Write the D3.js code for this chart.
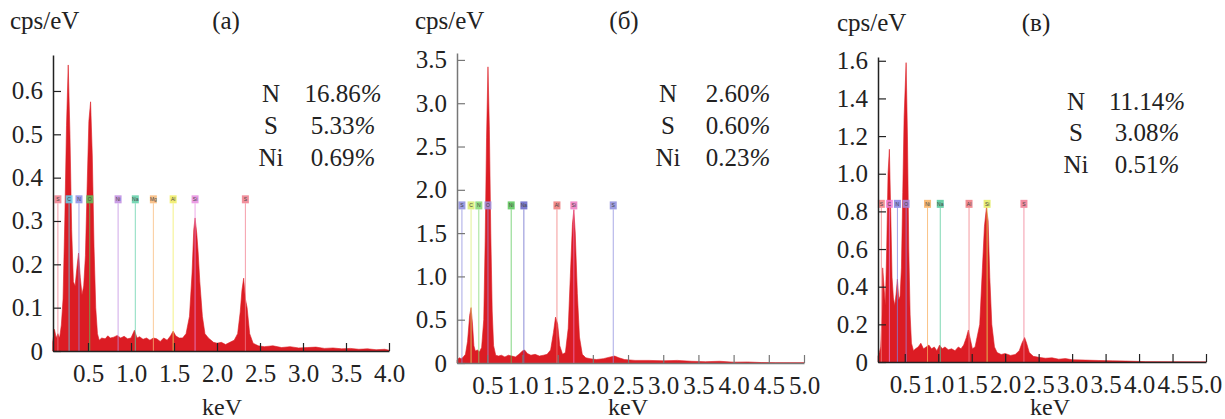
<!DOCTYPE html>
<html>
<head>
<meta charset="utf-8">
<script src="https://cdn.jsdelivr.net/npm/d3@7"></script>
<style>
  body { margin: 0; background: #fff; }
  text { font-family: "Liberation Serif", Tinos, "Times New Roman", Times, "DejaVu Serif", serif; }
</style>
</head>
<body>
<svg id="chart" width="1225" height="419"></svg>
<script>
var serif = "'Liberation Serif', Tinos, 'Times New Roman', Times, 'DejaVu Serif', serif";

// ---- spectrum (a) ----
var aKev = [0.09,0.11,0.13,0.15,0.17,0.19,0.21,0.23,0.25,0.27,0.29,0.31,0.33,0.35,0.37,0.39,0.41,0.43,0.45,0.47,0.49,0.51,0.53,0.55,0.57,0.59,0.61,0.63,0.66,0.70,0.73,0.76,0.80,0.84,0.88,0.92,0.96,1.00,1.04,1.07,1.10,1.14,1.18,1.22,1.26,1.30,1.34,1.38,1.42,1.46,1.49,1.52,1.56,1.60,1.64,1.68,1.71,1.73,1.745,1.765,1.78,1.80,1.83,1.86,1.90,1.96,2.00,2.05,2.10,2.15,2.20,2.24,2.27,2.29,2.31,2.33,2.35,2.38,2.42,2.48,2.55,2.65,2.75,2.85,2.95,3.05,3.15,3.25,3.35,3.45,3.55,3.65,3.75,3.85,3.95,4.0];
var aCps = [0.02,0.05,0.03,0.04,0.03,0.06,0.12,0.30,0.52,0.66,0.50,0.28,0.16,0.15,0.19,0.226,0.17,0.13,0.15,0.22,0.38,0.53,0.575,0.45,0.24,0.10,0.04,0.025,0.03,0.028,0.035,0.03,0.032,0.036,0.03,0.034,0.028,0.03,0.048,0.03,0.033,0.027,0.03,0.025,0.03,0.028,0.022,0.03,0.025,0.035,0.046,0.035,0.03,0.03,0.04,0.08,0.18,0.28,0.307,0.27,0.23,0.16,0.08,0.04,0.03,0.02,0.018,0.02,0.015,0.02,0.025,0.04,0.09,0.14,0.168,0.12,0.10,0.04,0.018,0.012,0.01,0.012,0.008,0.01,0.007,0.008,0.009,0.006,0.007,0.005,0.006,0.004,0.005,0.003,0.004,0.002];
var aLines = ["S","C","N","O","Ni","Na","Mg","Al","Si","S"];
var aLineKev = [0.15,0.28,0.395,0.52,0.85,1.05,1.26,1.49,1.745,2.33];
var aLineColors = ["#f07c8c","#5fd3f0","#8c8ce6","#5cc85c","#c08ce0","#60d0a8","#f8b878","#f0ec60","#e88ce0","#f07c8c"];
var aElements = ["N","S","Ni"];
var aPercents = ["16.86","5.33","0.69"];
var aXTicks = [0.5,1.0,1.5,2.0,2.5,3.0,3.5,4.0];
var aXLabels = ["0.5","1.0","1.5","2.0","2.5","3.0","3.5","4.0"];
var aYTicks = [0,0.1,0.2,0.3,0.4,0.5,0.6];
var aYLabels = ["0","0.1","0.2","0.3","0.4","0.5","0.6"];

// ---- spectrum (б) ----
var bKev = [0.07,0.10,0.13,0.16,0.19,0.22,0.25,0.27,0.29,0.31,0.33,0.36,0.39,0.42,0.45,0.47,0.49,0.51,0.53,0.55,0.57,0.59,0.62,0.66,0.70,0.75,0.80,0.85,0.90,0.95,1.00,1.03,1.07,1.12,1.18,1.24,1.30,1.35,1.40,1.44,1.47,1.50,1.53,1.57,1.61,1.65,1.68,1.71,1.73,1.75,1.78,1.81,1.85,1.90,1.96,2.05,2.15,2.25,2.31,2.37,2.45,2.6,2.8,3.0,3.2,3.4,3.6,3.8,4.0,4.2,4.4,4.6,5.0];
var bCps = [0.03,0.06,0.05,0.07,0.10,0.25,0.55,0.64,0.45,0.20,0.14,0.15,0.13,0.18,0.50,1.4,2.6,3.42,2.7,1.5,0.6,0.2,0.09,0.08,0.09,0.07,0.09,0.08,0.07,0.10,0.14,0.15,0.11,0.09,0.10,0.08,0.09,0.10,0.15,0.35,0.53,0.45,0.20,0.10,0.12,0.40,1.0,1.6,1.77,1.5,0.8,0.3,0.10,0.06,0.05,0.04,0.05,0.07,0.08,0.06,0.04,0.03,0.03,0.025,0.03,0.02,0.015,0.02,0.01,0.012,0.005,0.003,0.002];
var bLines = ["S","C","N","O","Ni","Na","Al","Si","S"];
var bLineKev = [0.14,0.27,0.38,0.51,0.84,1.02,1.49,1.73,2.29];
var bLineColors = ["#8c8cdc","#d8ec70","#80d870","#a090e0","#58c858","#6464c8","#f07878","#f078c0","#8c8cdc"];
var bElements = ["N","S","Ni"];
var bPercents = ["2.60","0.60","0.23"];
var bXTicks = [0.5,1.0,1.5,2.0,2.5,3.0,3.5,4.0,4.5,5.0];
var bXLabels = ["0.5","1.0","1.5","2.0","2.5","3.0","3.5","4.0","4.5","5.0"];
var bYTicks = [0,0.5,1.0,1.5,2.0,2.5,3.0,3.5];
var bYLabels = ["0","0.5","1.0","1.5","2.0","2.5","3.0","3.5"];

// ---- spectrum (в) ----
var cKev = [0.10,0.12,0.14,0.16,0.17,0.19,0.21,0.23,0.25,0.27,0.29,0.31,0.33,0.35,0.37,0.39,0.41,0.43,0.45,0.47,0.49,0.52,0.54,0.56,0.58,0.60,0.63,0.66,0.70,0.74,0.78,0.82,0.86,0.90,0.94,0.98,1.02,1.06,1.10,1.15,1.20,1.25,1.30,1.34,1.38,1.42,1.45,1.48,1.51,1.55,1.62,1.66,1.69,1.72,1.745,1.77,1.80,1.84,1.88,1.94,2.00,2.08,2.15,2.21,2.25,2.29,2.32,2.36,2.42,2.5,2.6,2.7,2.8,2.9,3.0,3.2,3.4,3.6,3.8,4.0,4.1,5.0];
var cCps = [0.03,0.05,0.08,0.25,0.5,0.4,0.3,0.6,1.0,1.13,0.8,0.45,0.34,0.30,0.36,0.44,0.33,0.35,0.5,0.9,1.3,1.59,1.2,0.6,0.25,0.10,0.06,0.07,0.08,0.10,0.07,0.08,0.09,0.07,0.08,0.06,0.09,0.07,0.08,0.065,0.07,0.06,0.08,0.07,0.09,0.13,0.17,0.12,0.07,0.08,0.2,0.5,0.72,0.82,0.75,0.45,0.2,0.08,0.05,0.04,0.045,0.035,0.04,0.06,0.10,0.13,0.10,0.05,0.03,0.025,0.02,0.022,0.015,0.018,0.012,0.01,0.008,0.006,0.005,0.003,0.001,0];
var cLines = ["S","C","N","O","Ni","Na","Al","Si","S"];
var cLineKev = [0.15,0.27,0.39,0.52,0.84,1.03,1.46,1.73,2.28];
var cLineColors = ["#f08080","#f080d8","#8080e0","#a088e0","#f8b060","#50c898","#f07880","#e4ec60","#f07890"];
var cElements = ["N","S","Ni"];
var cPercents = ["11.14","3.08","0.51"];
var cXTicks = [0.5,1.0,1.5,2.0,2.5,3.0,3.5,4.0,4.5,5.0];
var cXLabels = ["0.5","1.0","1.5","2.0","2.5","3.0","3.5","4.0","4.5","5.0"];
var cYTicks = [0,0.2,0.4,0.6,0.8,1.0,1.2,1.4,1.6];
var cYLabels = ["0","0.2","0.4","0.6","0.8","1.0","1.2","1.4","1.6"];

var svg = d3.select("#chart");
var red = "#dc1c24";

var panels = [
  { title: "(a)", kev: aKev, cps: aCps, lines: aLines, lineKev: aLineKev, lineColors: aLineColors,
    elements: aElements, percents: aPercents, xTicks: aXTicks, xLabels: aXLabels, yTicks: aYTicks, yLabels: aYLabels,
    xDomain: [0.093, 4.0], yDomain: [0, 0.683], left: 53, right: 389, top: 55, bottom: 351,
    markLevel: 0.35, axisColor: "#222", unitX: 10, titleX: 226, elX: 271, pctX: 343, rowY: [102, 134, 166], keVX: 222 },
  { title: "(б)", kev: bKev, cps: bCps, lines: bLines, lineKev: bLineKev, lineColors: bLineColors,
    elements: bElements, percents: bPercents, xTicks: bXTicks, xLabels: bXLabels, yTicks: bYTicks, yLabels: bYLabels,
    xDomain: [0.07, 5.0], yDomain: [0, 3.58], left: 457, right: 804, top: 53, bottom: 363,
    markLevel: 1.82, axisColor: "#777", unitX: 415, titleX: 624, elX: 668, pctX: 738, rowY: [102, 134, 166], keVX: 628 },
  { title: "(в)", kev: cKev, cps: cCps, lines: cLines, lineKev: cLineKev, lineColors: cLineColors,
    elements: cElements, percents: cPercents, xTicks: cXTicks, xLabels: cXLabels, yTicks: cYTicks, yLabels: cYLabels,
    xDomain: [0.1, 5.0], yDomain: [0, 1.62], left: 878, right: 1206, top: 57, bottom: 362,
    markLevel: 0.84, axisColor: "#222", unitX: 837, titleX: 1036, elX: 1076, pctX: 1147, rowY: [110, 141, 173], keVX: 1050 }
];

panels.forEach(function(p, pi) {
  var x = d3.scaleLinear().domain(p.xDomain).range([p.left, p.right]);
  var y = d3.scaleLinear().domain(p.yDomain).range([p.bottom, p.top]);
  var g = svg.append("g");

  // spectrum
  var pts = p.kev.map(function(k, i) { return [k, p.cps[i]]; });
  var area = d3.area()
    .x(function(d) { return x(d[0]); })
    .y0(y(0))
    .y1(function(d) { return y(d[1]); });
  g.append("path")
    .datum(pts)
    .attr("d", area)
    .attr("fill", red)
    .attr("stroke", red)
    .attr("stroke-width", 0.6);

  // element marker lines
  var marks = g.selectAll(".mark")
    .data(p.lines.map(function(l, i) { return { name: l, kev: p.lineKev[i], color: p.lineColors[i] }; }))
    .enter().append("g");
  marks.append("line")
    .attr("x1", function(d) { return x(d.kev); })
    .attr("x2", function(d) { return x(d.kev); })
    .attr("y1", y(p.markLevel) + 4)
    .attr("y2", y(0))
    .attr("stroke", function(d) { return d.color; })
    .attr("stroke-opacity", 0.75)
    .attr("stroke-width", 1);
  marks.append("rect")
    .attr("x", function(d) { return x(d.kev) - 3.5; })
    .attr("y", y(p.markLevel) - 4)
    .attr("width", 7)
    .attr("height", 8)
    .attr("fill", function(d) { return d.color; })
    .attr("fill-opacity", 0.85);
  marks.append("text")
    .attr("x", function(d) { return x(d.kev); })
    .attr("y", y(p.markLevel) + 2)
    .attr("text-anchor", "middle")
    .attr("font-size", 5)
    .attr("fill", "#444")
    .style("font-family", "'Liberation Sans', Arial, sans-serif")
    .text(function(d) { return d.name; });

  // axes
  var xAxis = d3.axisBottom(x)
    .tickValues(p.xTicks)
    .tickSize(-8)
    .tickSizeOuter(0)
    .tickPadding(13)
    .tickFormat(function(d, i) { return p.xLabels[i]; });
  var yAxis = d3.axisLeft(y)
    .tickValues(p.yTicks)
    .tickSize(-8)
    .tickSizeOuter(0)
    .tickPadding(10)
    .tickFormat(function(d, i) { return p.yLabels[i]; });

  var gx = g.append("g").attr("transform", "translate(0," + p.bottom + ")").call(xAxis);
  var gy = g.append("g").attr("transform", "translate(" + p.left + ",0)").call(yAxis);
  [gx, gy].forEach(function(ax) {
    ax.attr("font-family", null).attr("font-size", null);
    ax.select(".domain").attr("stroke", p.axisColor).attr("stroke-width", 1.5);
    ax.selectAll(".tick line").attr("stroke", p.axisColor).attr("stroke-width", 1.2);
    ax.selectAll(".tick text").attr("fill", "#222").style("font-size", "25px")
      .style("font-family", serif);
  });

  // unit, title, keV
  g.append("text").attr("x", p.unitX).attr("y", pi === 2 ? 31 : 29)
    .attr("font-size", 25).attr("fill", "#222").style("font-family", serif).text("cps/eV");
  g.append("text").attr("x", p.titleX).attr("y", pi === 2 ? 31 : 29).attr("text-anchor", "middle")
    .attr("font-size", 25).attr("fill", "#222").style("font-family", serif).text(p.title);
  g.append("text").attr("x", p.keVX).attr("y", 415).attr("text-anchor", "middle")
    .attr("font-size", 24).attr("fill", "#222").style("font-family", serif).text("keV");

  // composition
  p.elements.forEach(function(el, i) {
    g.append("text").attr("x", p.elX).attr("y", p.rowY[i]).attr("text-anchor", "middle")
      .attr("font-size", 25).attr("fill", "#222").style("font-family", serif).text(el);
    var t = g.append("text").attr("x", p.pctX).attr("y", p.rowY[i]).attr("text-anchor", "middle")
      .attr("font-size", 25).attr("fill", "#222").style("font-family", serif);
    t.append("tspan").text(p.percents[i]);
    t.append("tspan").attr("font-style", "italic").text("%");
  });
});
</script>
</body>
</html>
